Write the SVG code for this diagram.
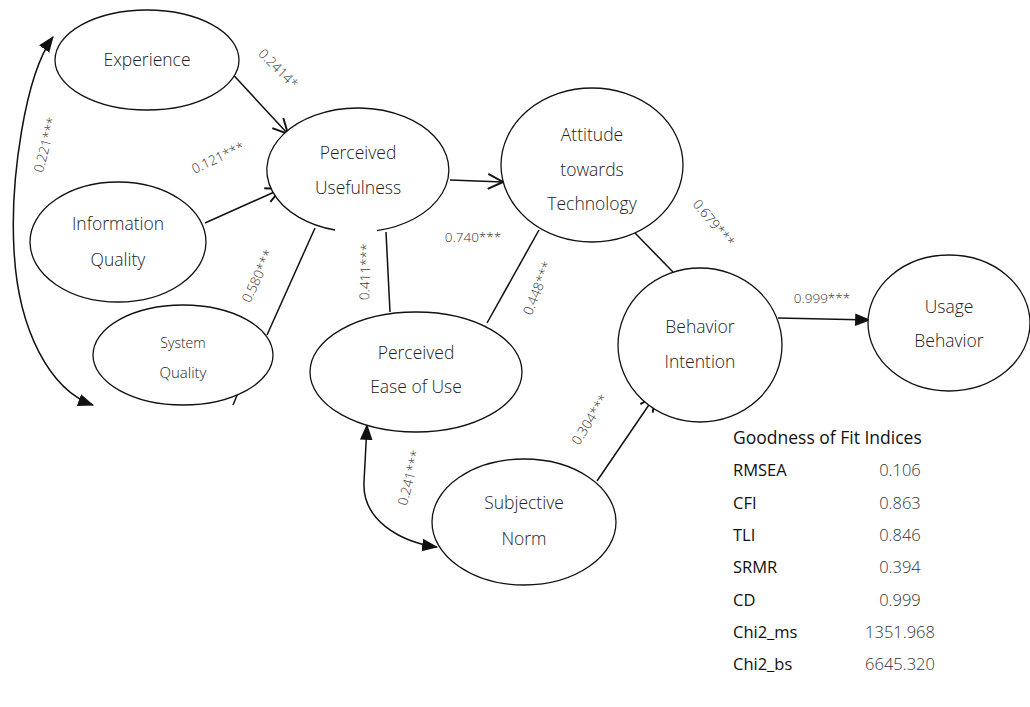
<svg xmlns="http://www.w3.org/2000/svg" width="1030" height="707" viewBox="0 0 1030 707">
<defs>
<style>
.node{fill:#fff;stroke:#111;stroke-width:1.3}
.nt{font-family:"Open Sans","Noto Sans",sans-serif;font-weight:300;font-size:17.5px;fill:#222;text-anchor:middle}
.lbl{font-family:"Open Sans","Noto Sans",sans-serif;font-weight:300;font-size:13.5px;fill:#333;text-anchor:middle}
.edge{fill:none;stroke:#111;stroke-width:1.5}
.th{font-family:"Open Sans","Noto Sans",sans-serif;font-weight:400;font-size:17.5px;fill:#111}
.tk{font-family:"Open Sans","Noto Sans",sans-serif;font-weight:400;font-size:16.5px;fill:#111}
.tv{font-family:"Open Sans","Noto Sans",sans-serif;font-weight:300;font-size:16.5px;fill:#333;text-anchor:middle}
</style>
<marker id="open" markerUnits="userSpaceOnUse" markerWidth="18" markerHeight="18" viewBox="0 0 12 12" refX="11" refY="6" orient="auto">
<path d="M1,1 L11,6 L1,11" fill="none" stroke="#111" stroke-width="1.3"/>
</marker>
<marker id="fill" markerUnits="userSpaceOnUse" markerWidth="16" markerHeight="16" viewBox="0 0 14 12" refX="13" refY="6" orient="auto-start-reverse">
<path d="M0,0.5 L14,6 L0,11.5 Z" fill="#111"/>
</marker>
</defs>
<rect width="1030" height="707" fill="#fff"/>

<g id="connectors">
<line class="edge" x1="213" y1="53" x2="288" y2="134" marker-end="url(#open)"/>
<line class="edge" x1="205" y1="223" x2="281" y2="189" marker-end="url(#open)"/>
<line class="edge" x1="267" y1="335" x2="315" y2="228"/>
<line class="edge" x1="233" y1="405" x2="238" y2="393"/>
<line class="edge" x1="386" y1="232" x2="390" y2="312"/>
<line class="edge" x1="450" y1="180" x2="503" y2="182" marker-end="url(#open)"/>
<line class="edge" x1="487" y1="323" x2="539" y2="230"/>
<line class="edge" x1="635" y1="233" x2="673" y2="272"/>
<line class="edge" x1="778" y1="318" x2="870" y2="320" marker-end="url(#fill)"/>
<line class="edge" x1="597" y1="481" x2="655" y2="396" marker-end="url(#open)"/>
<path class="edge" d="M53 37 C25 75 10 180 14 250 C18 330 50 390 93 405" marker-start="url(#fill)" marker-end="url(#fill)"/>
<path class="edge" d="M367 425 L364 482 C362 520 400 542 437 547" marker-start="url(#fill)" marker-end="url(#fill)"/>
</g>

<g id="labels">
<text class="lbl" transform="translate(275,72) rotate(45)">0.2414*</text>
<text class="lbl" transform="translate(50,146) rotate(-75)">0.221***</text>
<text class="lbl" transform="translate(220,162) rotate(-25)">0.121***</text>
<text class="lbl" transform="translate(262,278) rotate(-65)">0.580***</text>
<text class="lbl" transform="translate(370,272) rotate(-88)">0.411***</text>
<text class="lbl" x="473" y="242">0.740***</text>
<text class="lbl" transform="translate(542,290) rotate(-68)">0.448***</text>
<text class="lbl" transform="translate(710,226) rotate(50)">0.679***</text>
<text class="lbl" x="822" y="303">0.999***</text>
<text class="lbl" transform="translate(594,422) rotate(-58)">0.304***</text>
<text class="lbl" transform="translate(414,479) rotate(-75)">0.241***</text>
</g>

<g id="experience">
<ellipse class="node" cx="147" cy="60" rx="92" ry="50"/>
<text class="nt" x="147" y="66">Experience</text>
</g>
<g id="information-quality">
<ellipse class="node" cx="118" cy="242" rx="88" ry="60"/>
<text class="nt" x="118" y="230">Information</text>
<text class="nt" x="118" y="266">Quality</text>
</g>
<g id="system-quality">
<ellipse class="node" cx="183" cy="355" rx="90" ry="50"/>
<text class="nt" x="183" y="348" style="font-size:14px">System</text>
<text class="nt" x="183" y="378" style="font-size:15px">Quality</text>
</g>
<g id="perceived-usefulness">
<path class="node" d="M377 230.6 A91 62 0 1 0 335 230"/>
<text class="nt" x="358" y="159">Perceived</text>
<text class="nt" x="358" y="194">Usefulness</text>
</g>
<g id="perceived-ease-of-use">
<ellipse class="node" cx="416" cy="372" rx="106" ry="60"/>
<text class="nt" x="416" y="359">Perceived</text>
<text class="nt" x="416" y="393">Ease of Use</text>
</g>
<g id="attitude">
<ellipse class="node" cx="592" cy="165" rx="91" ry="77"/>
<text class="nt" x="592" y="141">Attitude</text>
<text class="nt" x="592" y="176">towards</text>
<text class="nt" x="592" y="210">Technology</text>
</g>
<g id="behavior-intention">
<ellipse class="node" cx="700" cy="345" rx="82" ry="77"/>
<text class="nt" x="700" y="333">Behavior</text>
<text class="nt" x="700" y="368">Intention</text>
</g>
<g id="usage-behavior">
<ellipse class="node" cx="949" cy="323" rx="81" ry="68"/>
<text class="nt" x="949" y="313">Usage</text>
<text class="nt" x="949" y="347">Behavior</text>
</g>
<g id="subjective-norm">
<ellipse class="node" cx="524" cy="522" rx="92" ry="63"/>
<text class="nt" x="524" y="509">Subjective</text>
<text class="nt" x="524" y="545">Norm</text>
</g>

<g id="fit-table">
<text class="th" x="733" y="444">Goodness of Fit Indices</text>
<text class="tk" x="733" y="476">RMSEA</text><text class="tv" x="900" y="476">0.106</text>
<text class="tk" x="733" y="509">CFI</text><text class="tv" x="900" y="509">0.863</text>
<text class="tk" x="733" y="541">TLI</text><text class="tv" x="900" y="541">0.846</text>
<text class="tk" x="733" y="573">SRMR</text><text class="tv" x="900" y="573">0.394</text>
<text class="tk" x="733" y="606">CD</text><text class="tv" x="900" y="606">0.999</text>
<text class="tk" x="733" y="638">Chi2_ms</text><text class="tv" x="900" y="638">1351.968</text>
<text class="tk" x="733" y="670">Chi2_bs</text><text class="tv" x="900" y="670">6645.320</text>
</g>
</svg>
